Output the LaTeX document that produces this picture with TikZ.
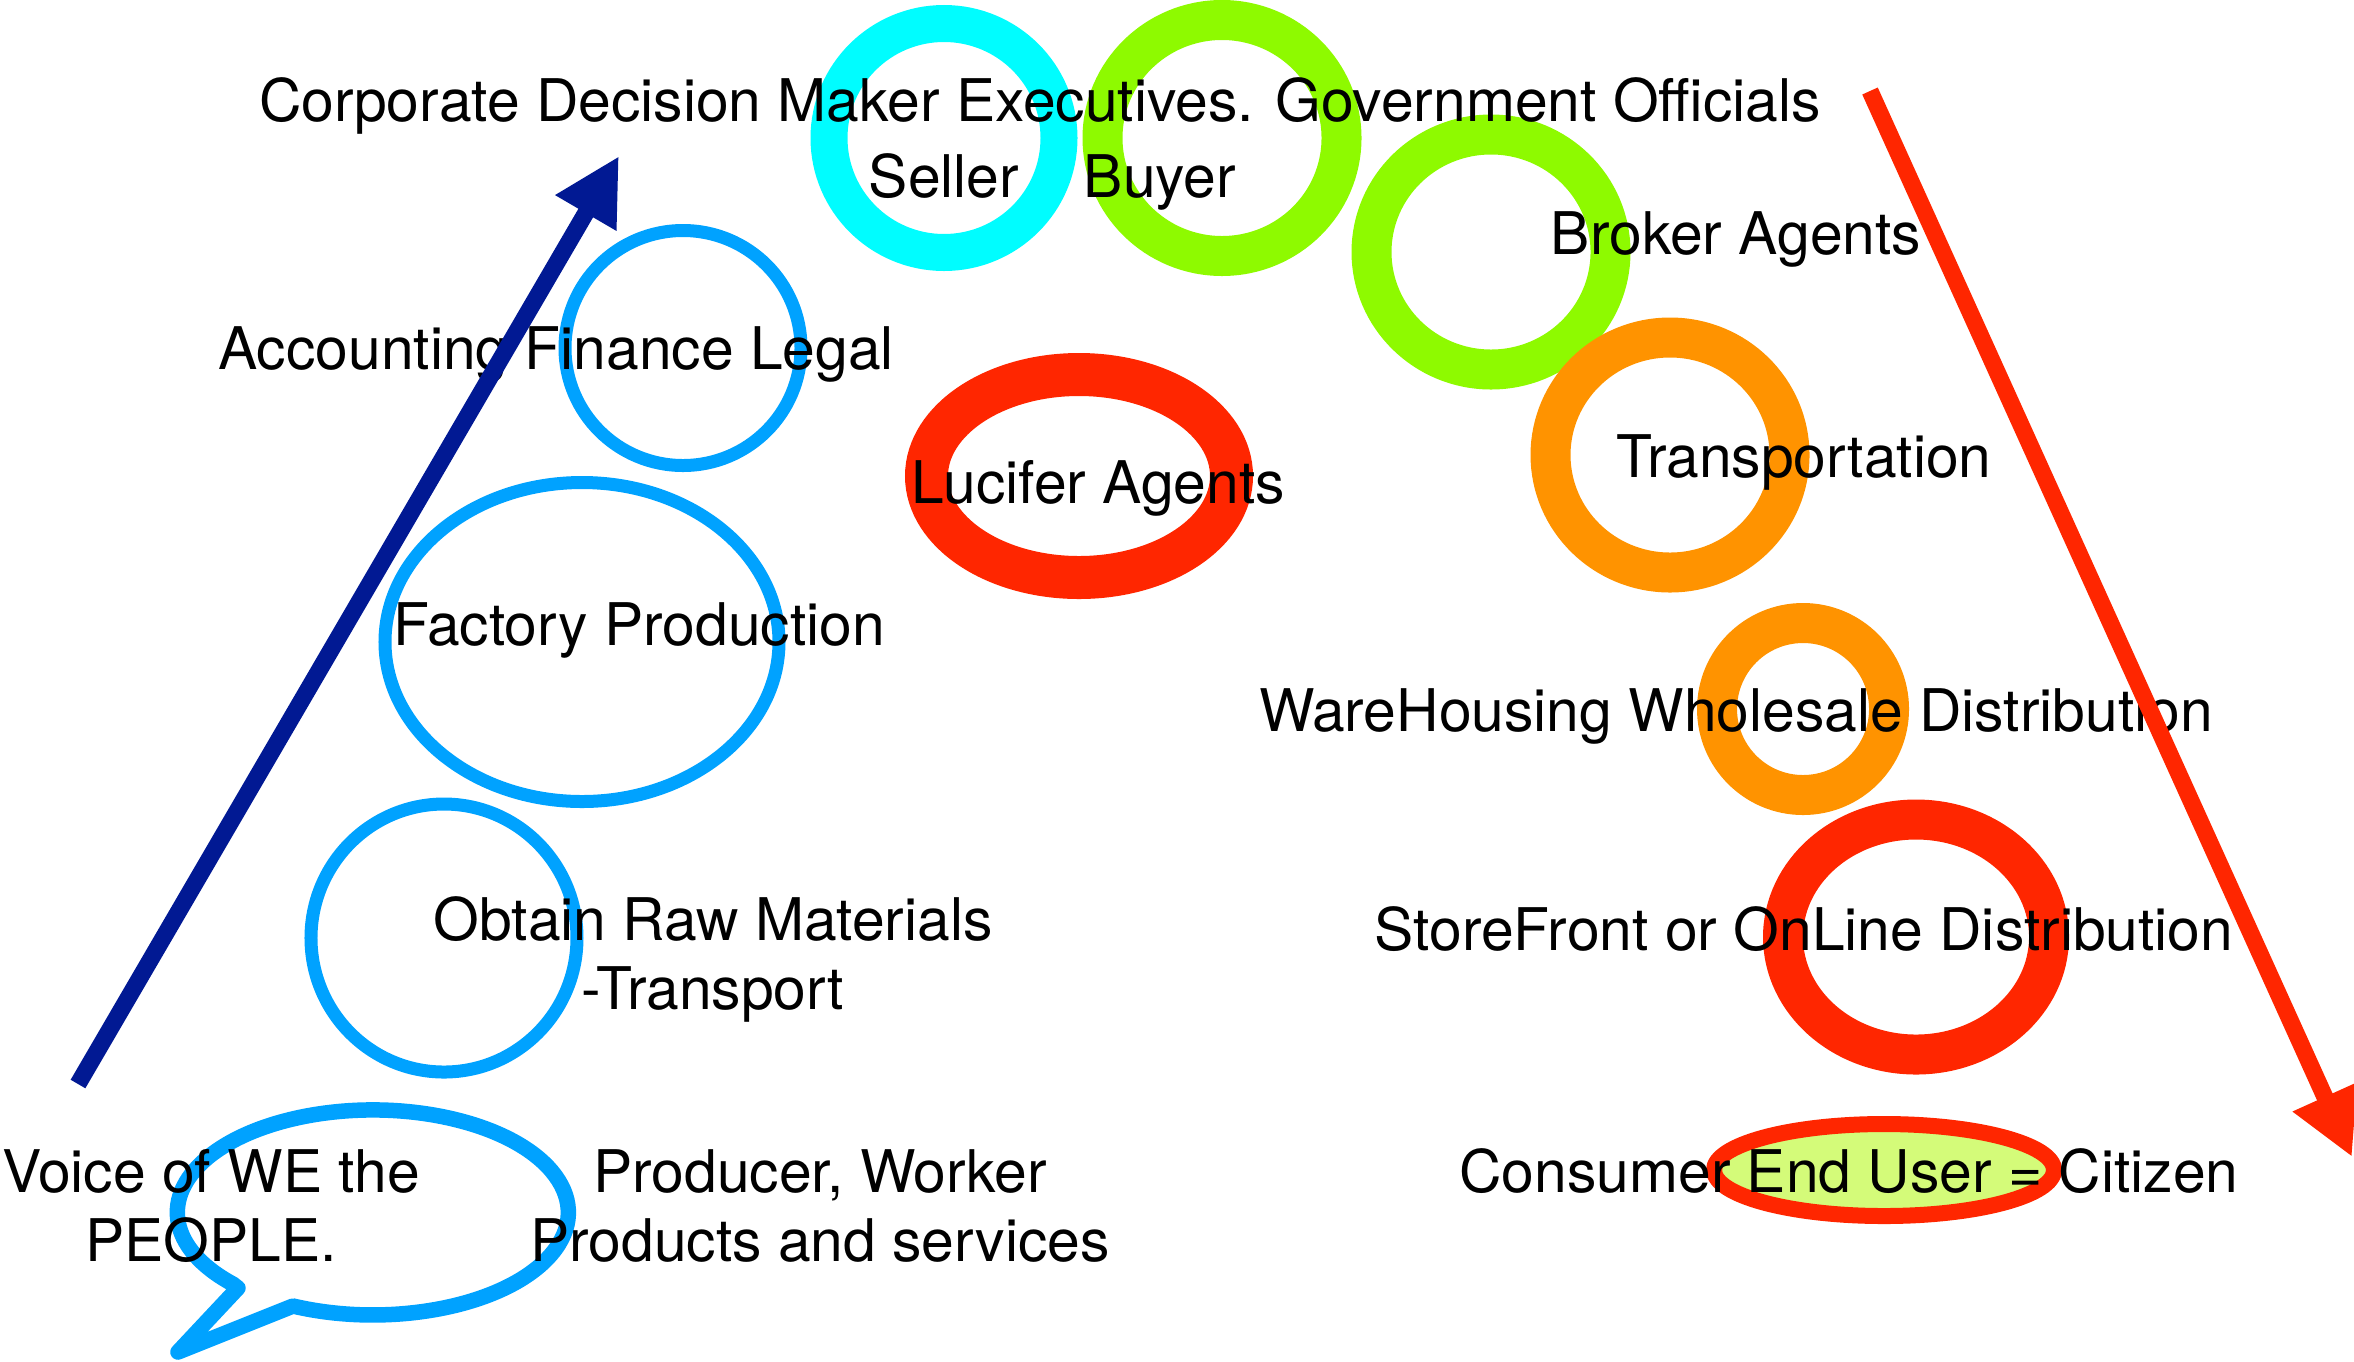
\documentclass[tikz,border=0pt]{standalone}
\usepackage{fontspec}
\setmainfont{TeX Gyre Heros}
\usetikzlibrary{arrows.meta,shapes.geometric}
\definecolor{aqua}{HTML}{00FDFF}
\definecolor{lime}{HTML}{8EFA00}
\definecolor{tangerine}{HTML}{FF9300}
\definecolor{maraschino}{HTML}{FF2600}
\definecolor{sky}{HTML}{00A2FF}
\definecolor{navy}{HTML}{011993}
\definecolor{honeydew}{HTML}{D4FB79}

\begin{document}
\begin{tikzpicture}[x=0.2mm,y=-0.2mm,node distance=2cm,
    ring node/.style={ellipse,draw,inner sep=0pt},
    thick ring/.style={ring node,line width=8mm},
    thin ring/.style={ring node,draw=sky,line width=2.6mm},
    main node/.style={align=center,inner sep=0pt,font=\fontsize{33.45}{39.1}\selectfont},
    arrow line/.style={line width=3.4mm,-{Triangle[length=13.2mm,width=13.2mm]}}]
            \useasboundingbox (0,0) rectangle (2354,1361);

            \node[thick ring,draw=aqua,line width=7.4mm,minimum width=46mm,minimum height=45.8mm] (seller ring) at (944,138) {};
            \node[thick ring,draw=lime,minimum width=47.8mm,minimum height=47.2mm] (buyer ring) [right of = seller ring, xshift=35.6mm] {};
            \node[thick ring,draw=lime,minimum width=47.8mm,minimum height=47mm] (broker ring) [right of = buyer ring, xshift=33.8mm, yshift=-22.8mm] {};
            \node[thick ring,draw=tangerine,minimum width=47.8mm,minimum height=47mm] (transport ring) [right of = broker ring, xshift=15.8mm, yshift=-40.6mm] {};
            \node[thick ring,draw=tangerine,minimum width=34.4mm,minimum height=34.4mm] (ware ring) [right of = transport ring, xshift=6.6mm, yshift=-50.8mm] {};
            \node[thick ring,draw=maraschino,minimum width=53.2mm,minimum height=47mm] (store ring) [right of = ware ring, xshift=2.6mm, yshift=-45.6mm] {};
            \node[ring node,draw=maraschino,fill=honeydew,line width=3.2mm,minimum width=68mm,minimum height=18.4mm] (consumer ring) [below of = store ring, xshift=-6.4mm, yshift=-26.6mm] {};
            \node[thick ring,draw=maraschino,line width=8.6mm,minimum width=61mm,minimum height=40.6mm] (lucifer ring) [below of = seller ring, xshift=27mm, yshift=-47.6mm] {};

            \node[thin ring,minimum width=47.2mm,minimum height=47mm] (finance ring) [left of = seller ring, xshift=-32.2mm, yshift=-42mm] {};
            \node[thin ring,minimum width=78.8mm,minimum height=63.8mm] (factory ring) [below of = finance ring, xshift=-20.2mm, yshift=-38.8mm] {};
            \node[thin ring,minimum width=53.2mm,minimum height=53.6mm] (raw ring) [below of = factory ring, xshift=-27.6mm, yshift=-39.2mm] {};

            \coordinate (bubble) at (373,1212.5);
            \draw[draw=sky,line width=3.1mm,line join=round] (238,1288) -- (178,1352) -- (293,1306)
                arc[start angle=245.9,end angle=584.4,x radius=39.1mm,y radius=20.5mm] -- cycle;

            \node[main node] (corporate) [right of = seller ring, xshift=-0.8mm, yshift=3.4mm, anchor=base]{Corporate Decision Maker Executives. Government Officials};
            \node[main node] (seller) [below of = seller ring, yshift=8.2mm, anchor=base]{Seller};
            \node[main node] (buyer) [left of = buyer ring, xshift=7.6mm, yshift=-11.8mm, anchor=base]{Buyer};
            \node[main node] (broker) [right of = broker ring, xshift=29mm, yshift=-0.4mm, anchor=base]{Broker Agents};
            \node[main node] (finance) [left of = finance ring, xshift=-5.4mm, yshift=-4.2mm, anchor=base]{Accounting Finance Legal};
            \node[main node] (lucifer) [below of = lucifer ring, xshift=3.8mm, yshift=14.6mm, anchor=base]{Lucifer Agents};
            \node[main node] (transport) [right of = transport ring, xshift=6.8mm, yshift=-4.4mm, anchor=base]{Transportation};
            \node[main node] (factory) [right of = factory ring, xshift=-8.6mm, yshift=-0.6mm, anchor=base]{Factory Production};
            \node[main node] (ware) [left of = ware ring, xshift=6.6mm, yshift=-4.4mm, anchor=base]{WareHousing Wholesale Distribution};
            \node[main node] (raw) [right of = raw ring, xshift=33.8mm, yshift=-14.2mm, anchor=base]{Obtain Raw Materials\\-Transport};
            \node[main node] (store) [left of = store ring, xshift=-2.4mm, yshift=-2.6mm, anchor=base]{StoreFront or OnLine Distribution};
            \node[main node] (voice) [left of = bubble, xshift=-12.4mm, yshift=-9.7mm, anchor=base]{Voice of WE the\\PEOPLE.};
            \node[main node] (producer) [right of = bubble, xshift=69.4mm, yshift=-9.7mm, anchor=base]{Producer, Worker\\Products and services};
            \node[main node] (consumer) [left of = consumer ring, xshift=13mm, yshift=-4.4mm, anchor=base]{Consumer End User = Citizen};

            \coordinate (people) at (78,1084);
            \coordinate (corporate top) at (619,156);
            \coordinate (officials) at (1870,91);
            \coordinate (citizen) at (2352,1157);

            \draw[arrow line,navy] (people) -- (corporate top);
            \draw[arrow line,maraschino] (officials) -- (citizen);
        \end{tikzpicture}
\end{document}
